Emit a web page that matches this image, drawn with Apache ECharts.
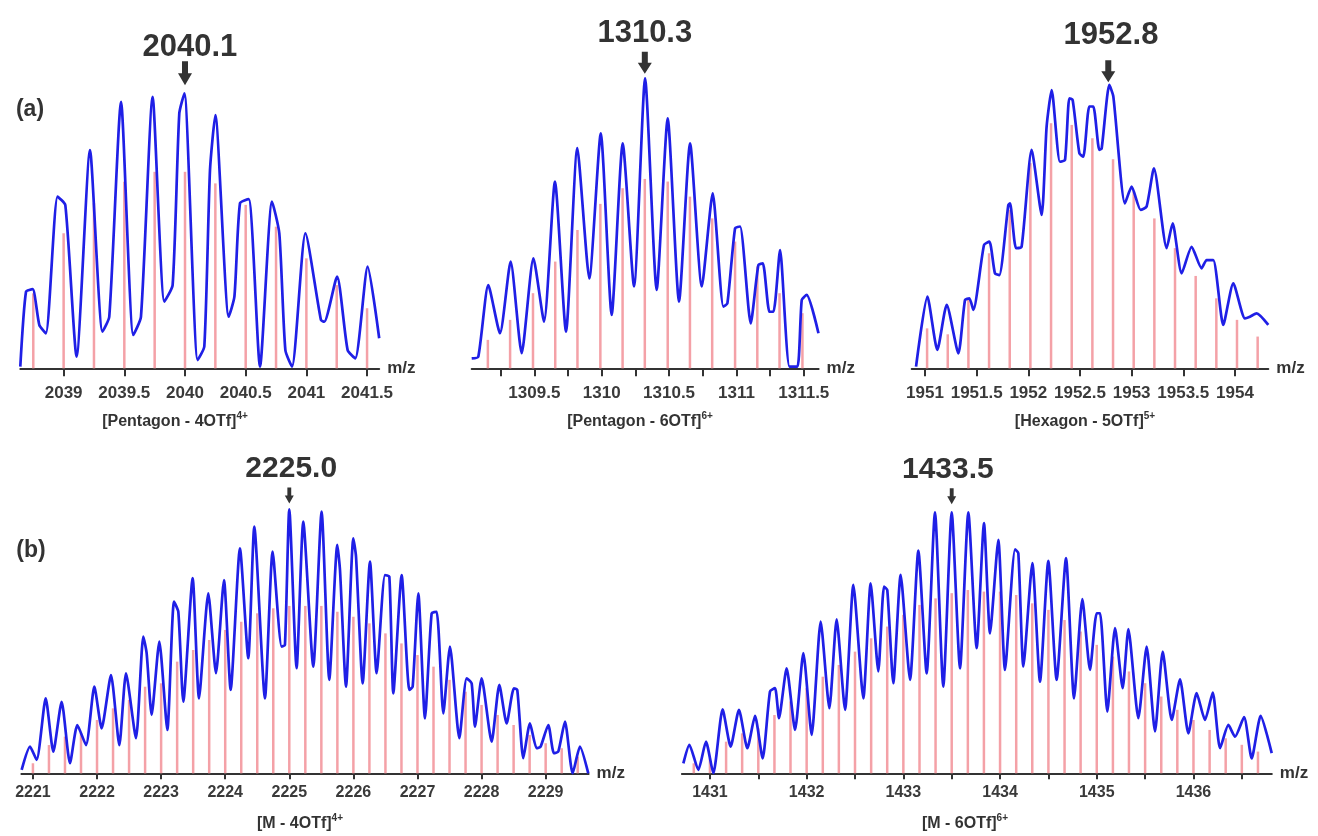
<!DOCTYPE html>
<html><head><meta charset="utf-8">
<script src="https://cdn.jsdelivr.net/npm/echarts@6/dist/echarts.min.js"></script>
<style>html,body{margin:0;padding:0;background:#fff}#c{width:1318px;height:836px}</style>
</head><body><div id="c"></div>
<script>
// ---------- DATA ----------
// Panel 1: [Pentagon - 4OTf]4+  (measured trace [m/z, rel. intensity])
const p1Line = [[2038.643,0.6],[2038.69,27.8],[2038.745,28.7],[2038.80,15.7],[2038.854,12.7],[2038.95,62.3],[2039.014,59.2],[2039.107,4.2],[2039.217,79.2],[2039.32,13.3],[2039.376,18.7],[2039.473,96.7],[2039.574,12.1],[2039.637,18.7],[2039.733,98.5],[2039.83,24.2],[2039.898,30.2],[2039.953,92.5],[2039.995,99.8],[2040.104,3.0],[2040.159,7.9],[2040.206,72],[2040.25,91.9],[2040.36,18.7],[2040.407,26],[2040.453,59.9],[2040.525,61.4],[2040.618,0.6],[2040.717,60.5],[2040.777,49],[2040.827,6.6],[2040.882,0.6],[2040.992,49],[2041.12,17.5],[2041.148,16.9],[2041.253,33.3],[2041.34,6.6],[2041.403,3.6],[2041.505,36.9],[2041.60,10.9]];
const p1StickMz  = [2038.75,2039.0,2039.25,2039.5,2039.75,2040.0,2040.25,2040.5,2040.75,2041.0,2041.25,2041.5];
const p1StickInt = [27.2,49.0,59.9,67.7,71.3,71.3,67.1,59.3,51.4,39.9,30.2,21.8];
const p1Ticks  = [2039,2039.5,2040,2040.5,2041,2041.5];
const p1Labels = [2039,2039.5,2040,2040.5,2041,2041.5];

// Panel 2: [Pentagon - 6OTf]6+
const p2Line = [[1309.035,3.4],[1309.084,4.0],[1309.158,28.7],[1309.245,12.1],[1309.324,36.8],[1309.406,5.2],[1309.493,37.9],[1309.572,16.1],[1309.653,64.4],[1309.735,12.6],[1309.819,75.9],[1309.908,31.0],[1309.993,81.0],[1310.074,18.4],[1310.156,77.6],[1310.24,28.2],[1310.322,100],[1310.408,27.0],[1310.49,86.2],[1310.574,23.0],[1310.656,77.6],[1310.743,28.2],[1310.824,60.3],[1310.903,21.3],[1310.933,22.4],[1310.99,48.3],[1311.027,48.9],[1311.106,15.5],[1311.163,35.6],[1311.196,36.2],[1311.245,19.5],[1311.275,19.5],[1311.324,40.8],[1311.394,0.6],[1311.453,0.6],[1311.485,23.6],[1311.522,25.3],[1311.609,12.1]];
const p2StickMz  = [1309.155,1309.32,1309.49,1309.655,1309.82,1309.99,1310.155,1310.32,1310.49,1310.655,1310.82,1310.99,1311.155,1311.32,1311.49];
const p2StickInt = [9.8,16.7,25.9,36.8,47.7,56.7,62.1,65.3,64.4,59.2,51.7,43.7,35.1,25.9,19.0];
const p2Ticks  = [1309.25,1309.5,1309.75,1310,1310.25,1310.5,1310.75,1311,1311.25,1311.5];
const p2Labels = [1309.5,1310,1310.5,1311,1311.5];

// Panel 3: [Hexagon - 5OTf]5+
const p3Line = [[1950.913,0.6],[1951.023,25.3],[1951.119,6.5],[1951.21,22.4],[1951.323,5.3],[1951.387,24.1],[1951.429,24.7],[1951.468,20.6],[1951.571,43.5],[1951.623,44.7],[1951.677,33.5],[1951.719,32.9],[1951.806,57.6],[1951.823,58.2],[1951.881,42.4],[1951.935,42.9],[1952.032,77.1],[1952.129,54.1],[1952.177,85.3],[1952.226,98.2],[1952.306,72.9],[1952.355,73.5],[1952.397,95.3],[1952.429,94.7],[1952.494,75.9],[1952.532,74.7],[1952.59,92.4],[1952.629,92.4],[1952.687,77.1],[1952.71,77.6],[1952.784,100],[1952.823,95.9],[1952.935,58.2],[1953.0,64.1],[1953.087,55.9],[1953.145,57.1],[1953.216,70.6],[1953.339,42.4],[1953.397,51.2],[1953.484,33.5],[1953.581,42.9],[1953.677,35.3],[1953.726,38.2],[1953.79,38.2],[1953.887,15.3],[1953.984,30.0],[1954.097,17.6],[1954.145,18.2],[1954.21,19.4],[1954.323,15.3]];
const p3StickMz  = [1951.02,1951.22,1951.42,1951.62,1951.82,1952.02,1952.22,1952.42,1952.62,1952.82,1953.02,1953.22,1953.42,1953.62,1953.82,1954.02,1954.22];
const p3StickInt = [14.1,12.0,24.7,40.6,55.9,72.4,86.5,85.9,81.2,73.8,62.4,52.9,42.4,32.6,24.7,17.1,11.2];
const p3Ticks  = [1951,1951.5,1952,1952.5,1953,1953.5,1954];
const p3Labels = [1951,1951.5,1952,1952.5,1953,1953.5,1954];

// Panel 4: [M - 4OTf]4+
const p4Line = [[2220.824,1.3],[2220.954,10.1],[2221.058,5.1],[2221.199,28.4],[2221.318,8.2],[2221.448,27.1],[2221.578,3.8],[2221.693,18.3],[2221.828,10.7],[2221.958,32.8],[2222.072,17.0],[2222.218,37.2],[2222.348,10.7],[2222.452,37.9],[2222.608,13.3],[2222.722,51.8],[2222.774,45.5],[2222.852,22.1],[2222.972,49.9],[2223.097,16.4],[2223.201,65.0],[2223.268,61.2],[2223.346,27.1],[2223.492,73.9],[2223.591,28.4],[2223.736,68.2],[2223.856,37.9],[2223.981,73.2],[2224.085,31.6],[2224.23,85.2],[2224.36,43.6],[2224.454,93.4],[2224.62,28.4],[2224.74,84.0],[2224.88,48.0],[2224.932,48.6],[2225.0,100],[2225.114,39.8],[2225.218,95.3],[2225.374,40.4],[2225.504,99.1],[2225.624,35.4],[2225.749,86.5],[2225.791,77.0],[2225.885,32.8],[2225.999,89.0],[2226.041,82.1],[2226.145,34.1],[2226.259,80.2],[2226.363,37.9],[2226.493,75.1],[2226.561,74.5],[2226.623,30.3],[2226.753,75.1],[2226.873,31.6],[2226.925,32.8],[2227.013,68.2],[2227.117,20.8],[2227.221,60.6],[2227.299,61.2],[2227.403,22.7],[2227.507,48.0],[2227.653,13.3],[2227.767,36.0],[2227.845,34.1],[2227.897,17.7],[2228.001,36.0],[2228.157,12.0],[2228.277,33.5],[2228.391,18.9],[2228.505,32.2],[2228.557,31.6],[2228.651,5.7],[2228.755,18.9],[2228.859,9.5],[2228.921,10.1],[2229.041,18.3],[2229.129,7.6],[2229.197,8.2],[2229.301,19.6],[2229.421,0],[2229.535,10.1],[2229.665,0]];
const p4StickMz  = [2221.0,2221.25,2221.5,2221.75,2222.0,2222.25,2222.5,2222.75,2223.0,2223.25,2223.5,2223.75,2224.0,2224.25,2224.5,2224.75,2225.0,2225.25,2225.5,2225.75,2226.0,2226.25,2226.5,2226.75,2227.0,2227.25,2227.5,2227.75,2228.0,2228.25,2228.5,2228.75,2229.0,2229.25,2229.5];
const p4StickInt = [3.8,10.7,13.9,15.2,20.2,24.6,27.8,32.8,34.1,42.3,46.7,50.5,54.3,57.4,60.6,62.5,63.4,63.4,63.4,61.2,59.3,56.8,53.0,49.2,44.8,40.4,35.4,30.9,25.9,22.1,18.3,14.5,11.4,9.5,6.3];
const p4Ticks  = [2221,2222,2223,2224,2225,2226,2227,2228,2229];
const p4Labels = [2221,2222,2223,2224,2225,2226,2227,2228,2229];

// Panel 5: [M - 6OTf]6+
const p5Line = [[1430.725,3.8],[1430.787,10.9],[1430.88,1.3],[1430.959,12.1],[1431.035,0],[1431.131,24.5],[1431.214,10.2],[1431.30,24.3],[1431.387,9.6],[1431.466,22.0],[1431.545,5.7],[1431.621,31.3],[1431.673,32.6],[1431.714,21.1],[1431.793,40.2],[1431.88,16.6],[1431.966,46.0],[1432.052,14.7],[1432.145,58.1],[1432.235,24.9],[1432.31,59.0],[1432.397,24.3],[1432.483,72.2],[1432.586,28.7],[1432.662,72.8],[1432.741,39.0],[1432.80,71.5],[1432.834,70.2],[1432.896,34.5],[1432.972,76.0],[1433.069,35.8],[1433.155,85.3],[1433.241,38.3],[1433.327,100],[1433.413,33.2],[1433.5,100],[1433.586,40.2],[1433.672,100],[1433.758,47.9],[1433.834,95.8],[1433.896,53.6],[1433.982,89.4],[1434.051,39.6],[1434.155,85.8],[1434.189,84.3],[1434.241,40.9],[1434.334,80.5],[1434.413,35.1],[1434.499,81.4],[1434.585,35.8],[1434.682,82.4],[1434.765,28.7],[1434.851,66.7],[1434.93,39.6],[1434.999,61.3],[1435.034,61.3],[1435.109,23.6],[1435.189,55.6],[1435.268,32.6],[1435.327,55.2],[1435.43,21.1],[1435.516,48.5],[1435.602,16.0],[1435.682,46.6],[1435.775,20.4],[1435.861,36.0],[1435.947,15.3],[1436.033,30.7],[1436.119,20.4],[1436.199,30.9],[1436.275,9.6],[1436.361,18.5],[1436.43,14.0],[1436.523,21.5],[1436.602,5.7],[1436.695,22.0],[1436.809,7.7]];
const p5StickMz  = [1430.833,1431.0,1431.167,1431.333,1431.5,1431.667,1431.833,1432.0,1432.167,1432.333,1432.5,1432.667,1432.833,1433.0,1433.167,1433.333,1433.5,1433.667,1433.833,1434.0,1434.167,1434.333,1434.5,1434.667,1434.833,1435.0,1435.167,1435.333,1435.5,1435.667,1435.833,1436.0,1436.167,1436.333,1436.5,1436.667];
const p5StickInt = [3.8,5.7,12.1,15.3,17.2,22.3,27.5,32.6,37.0,41.5,46.6,51.7,56.2,60.7,64.5,67.0,69.0,70.2,69.6,69.6,68.3,65.1,62.6,58.7,54.3,49.2,44.7,39.0,34.5,29.4,24.3,20.4,16.6,13.4,10.9,8.3];
const p5Ticks  = [1431,1431.5,1432,1432.5,1433,1433.5,1434,1434.5,1435,1435.5,1436,1436.5];
const p5Labels = [1431,1432,1433,1434,1435,1436];

// annotations (text)
const peakLabels = ['2040.1','1310.3','1952.8','2225.0','1433.5'];
const peakMz     = [2040.0, 1310.32, 1952.774, 2225.0, 1433.5];
const ionNames   = ['[Pentagon - 4OTf]','[Pentagon - 6OTf]','[Hexagon - 5OTf]','[M - 4OTf]','[M - 6OTf]'];
const ionCharges = ['4+','6+','5+','4+','6+'];
const rowLabels  = ['(a)','(b)'];

// ---------- LAYOUT ----------
const FONT = '"Liberation Sans", Arial, sans-serif';
const TXT = '#333333';
const panels = [
  {line:p1Line, mz:p1StickMz, it:p1StickInt, ticks:p1Ticks, labels:p1Labels, min:2038.643, max:2041.6,
   grid:{left:20.3, top:37.6, width:358.9, height:330.7}, ymax:120, arrowY:107.1, textMz:2040.04, textY:116.4,
   arrowSize:[14,24], fs:31, lblFs:17, lblMargin:17, tickLen:8, sub:[175,422]},
  {line:p2Line, mz:p2StickMz, it:p2StickInt, ticks:p2Ticks, labels:p2Labels, min:1309.035, max:1311.61,
   grid:{left:471.7, top:20.3, width:346.9, height:348}, ymax:120, arrowY:105.4, textMz:1310.32, textY:115.6,
   arrowSize:[14,22], fs:31, lblFs:17, lblMargin:17, tickLen:8, sub:[640,422]},
  {line:p3Line, mz:p3StickMz, it:p3StickInt, ticks:p3Ticks, labels:p3Labels, min:1950.871, max:1954.323,
   grid:{left:911.7, top:28.3, width:356.6, height:340}, ymax:120, arrowY:104.8, textMz:1952.80, textY:117.3,
   arrowSize:[14,22], fs:31, lblFs:17, lblMargin:17, tickLen:8, sub:[1085,422]},
  {line:p4Line, mz:p4StickMz, it:p4StickInt, ticks:p4Ticks, labels:p4Labels, min:2220.82, max:2229.67,
   grid:{left:21.4, top:443.3, width:567.2, height:330}, ymax:125, arrowY:105.2, textMz:2225.03, textY:115.2,
   arrowSize:[9,16], fs:30, lblFs:16, lblMargin:11, tickLen:6, sub:[300,824]},
  {line:p5Line, mz:p5StickMz, it:p5StickInt, ticks:p5Ticks, labels:p5Labels, min:1430.71, max:1436.81,
   grid:{left:681.9, top:447, width:589.9, height:326.25}, ymax:125, arrowY:106.1, textMz:1433.46, textY:116.4,
   arrowSize:[9,16], fs:30, lblFs:16, lblMargin:11, tickLen:6, sub:[965,824]}
];
const ARROW = 'path://M4,0L10,0L10,12L14,12L7,24L0,12L4,12Z';

const grids = [], xAxes = [], yAxes = [], series = [];
panels.forEach((p, i) => {
  grids.push(Object.assign({containLabel:false}, p.grid));
  xAxes.push({
    type:'value', gridIndex:i, min:p.min, max:p.max,
    name:'m/z', nameLocation:'end', nameGap:8,
    nameTextStyle:{fontFamily:FONT, fontSize:17, fontWeight:'bold', color:TXT, verticalAlign:'middle'},
    axisLine:{show:true, onZero:false, lineStyle:{color:'#333', width:2}},
    axisTick:{show:true, customValues:p.ticks, length:p.tickLen, lineStyle:{color:'#333', width:2}},
    axisLabel:{show:true, customValues:p.labels, margin:p.lblMargin, fontFamily:FONT, fontSize:p.lblFs,
      fontWeight:'bold', color:'#3a3a3a', formatter:(v)=>String(v)},
    splitLine:{show:false}
  });
  yAxes.push({type:'value', gridIndex:i, min:0, max:p.ymax, show:false, splitLine:{show:false}});
  series.push({
    type:'bar', xAxisIndex:i, yAxisIndex:i, barWidth:2.5, z:1, silent:true,
    itemStyle:{color:'#f4a1a7'},
    data:p.mz.map((m, k) => [m, p.it[k]])
  });
  series.push({
    type:'line', xAxisIndex:i, yAxisIndex:i, z:3, silent:true, showSymbol:false, smooth:0.2,
    lineStyle:{color:'#1f1fe6', width:2.7},
    data:p.line,
    markPoint:{
      silent:true, animation:false,
      data:[
        {coord:[peakMz[i], p.arrowY], symbol:ARROW, symbolSize:p.arrowSize, itemStyle:{color:'#333'}, label:{show:false}},
        {coord:[p.textMz, p.textY], symbol:'circle', symbolSize:1, itemStyle:{color:'rgba(0,0,0,0)'},
         label:{show:true, position:'inside', formatter:peakLabels[i], fontFamily:FONT, fontSize:p.fs, fontWeight:'bold', color:TXT}}
      ]
    }
  });
});

const graphics = [
  {type:'text', x:30, y:110, style:{text:rowLabels[0], fontFamily:FONT, fontSize:23, fontWeight:'bold', fill:TXT, align:'center', verticalAlign:'middle'}},
  {type:'text', x:31, y:551, style:{text:rowLabels[1], fontFamily:FONT, fontSize:23, fontWeight:'bold', fill:TXT, align:'center', verticalAlign:'middle'}}
];
panels.forEach((p, i) => {
  graphics.push({type:'text', x:p.sub[0], y:p.sub[1], style:{
    text: ionNames[i] + '{s|' + ionCharges[i] + '}',
    fontFamily:FONT, fontSize:16, fontWeight:'bold', fill:TXT, align:'center', verticalAlign:'middle', lineHeight:22,
    rich:{s:{fontFamily:FONT, fontSize:10, fontWeight:'bold', fill:TXT, verticalAlign:'top', lineHeight:11}}
  }});
});

const chart = echarts.init(document.getElementById('c'), null, {renderer:'canvas'});
chart.setOption({
  animation:false, backgroundColor:'#ffffff',
  grid:grids, xAxis:xAxes, yAxis:yAxes, series:series, graphic:graphics
});
</script></body></html>
